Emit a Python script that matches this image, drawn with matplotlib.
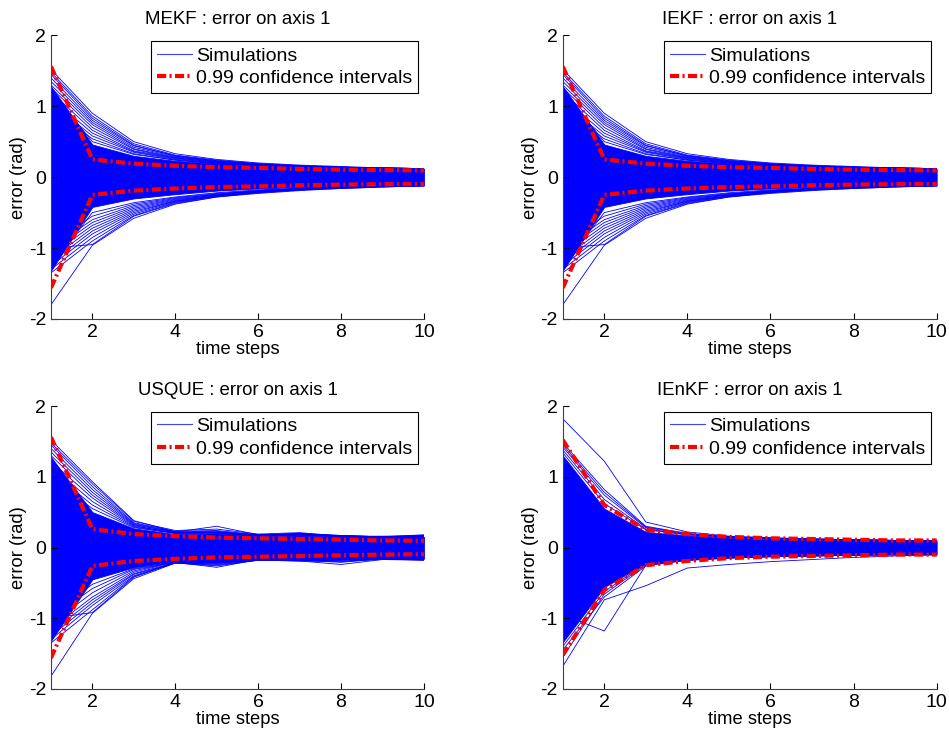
import matplotlib.pyplot as plt
from matplotlib.lines import Line2D
import numpy as np

plt.rcParams['font.family'] = ['Liberation Sans', 'DejaVu Sans']
plt.rcParams['axes.unicode_minus'] = False

steps = [1, 2, 3, 4, 5, 6, 7, 8, 9, 10]
titles = ['MEKF : error on axis 1', 'IEKF : error on axis 1',
          'USQUE : error on axis 1', 'IEnKF : error on axis 1']

# 0.99 confidence bounds (upper; lower is the mirror)
mekf_ci = [1.56, 0.25, 0.19, 0.16, 0.14, 0.13, 0.115, 0.105, 0.10, 0.095]
usque_ci = [1.56, 0.26, 0.19, 0.16, 0.14, 0.13, 0.12, 0.11, 0.10, 0.095]
ienkf_ci = [1.52, 0.60, 0.25, 0.19, 0.15, 0.13, 0.12, 0.11, 0.10, 0.10]

# dense core of the simulation runs (upper / lower edge)
mekf_core_hi = [1.28, 0.46, 0.30, 0.23, 0.19, 0.16, 0.14, 0.13, 0.12, 0.12]
mekf_core_lo = [-1.32, -0.42, -0.30, -0.24, -0.19, -0.16, -0.14, -0.13, -0.12, -0.12]
usque_core_hi = [1.28, 0.50, 0.27, 0.19, 0.20, 0.16, 0.17, 0.15, 0.14, 0.15]
usque_core_lo = [-1.32, -0.45, -0.28, -0.19, -0.20, -0.16, -0.17, -0.16, -0.15, -0.16]
ienkf_core_hi = [1.30, 0.55, 0.22, 0.17, 0.14, 0.12, 0.11, 0.10, 0.10, 0.10]
ienkf_core_lo = [-1.34, -0.56, -0.22, -0.17, -0.14, -0.12, -0.11, -0.10, -0.10, -0.10]

# individual runs outside the core
mekf_runs = [
    [1.52, 0.90, 0.50, 0.33, 0.25, 0.20, 0.17, 0.15, 0.13, 0.12],
    [1.48, 0.86, 0.47, 0.31, 0.24, 0.19, 0.16, 0.14, 0.13, 0.12],
    [1.45, 0.83, 0.45, 0.30, 0.23, 0.19, 0.16, 0.14, 0.13, 0.12],
    [1.40, 0.80, 0.44, 0.30, 0.23, 0.18, 0.16, 0.14, 0.13, 0.12],
    [1.35, 0.77, 0.42, 0.29, 0.22, 0.18, 0.15, 0.14, 0.13, 0.12],
    [1.30, 0.74, 0.40, 0.28, 0.22, 0.18, 0.15, 0.14, 0.12, 0.12],
    [1.26, 0.70, 0.39, 0.27, 0.21, 0.17, 0.15, 0.13, 0.12, 0.12],
    [1.20, 0.66, 0.37, 0.27, 0.21, 0.17, 0.15, 0.13, 0.12, 0.11],
    [1.12, 0.62, 0.36, 0.26, 0.20, 0.17, 0.14, 0.13, 0.12, 0.11],
    [1.05, 0.58, 0.35, 0.25, 0.20, 0.16, 0.14, 0.13, 0.12, 0.11],
    [0.98, 0.54, 0.33, 0.24, 0.19, 0.16, 0.14, 0.13, 0.12, 0.11],
    [1.22, 0.50, 0.32, 0.24, 0.19, 0.16, 0.14, 0.13, 0.12, 0.11],
    [-1.80, -0.96, -0.58, -0.38, -0.28, -0.23, -0.19, -0.16, -0.14, -0.12],
    [-1.00, -0.95, -0.55, -0.37, -0.28, -0.22, -0.18, -0.16, -0.14, -0.12],
    [-1.35, -0.90, -0.54, -0.36, -0.27, -0.22, -0.18, -0.15, -0.13, -0.12],
    [-1.30, -0.85, -0.52, -0.35, -0.27, -0.21, -0.18, -0.15, -0.13, -0.12],
    [-1.25, -0.80, -0.50, -0.34, -0.26, -0.21, -0.17, -0.15, -0.13, -0.12],
    [-1.20, -0.76, -0.48, -0.34, -0.26, -0.21, -0.17, -0.15, -0.13, -0.12],
    [-1.15, -0.72, -0.46, -0.33, -0.25, -0.20, -0.17, -0.15, -0.13, -0.12],
    [-1.10, -0.68, -0.44, -0.32, -0.25, -0.20, -0.17, -0.14, -0.13, -0.11],
    [-1.05, -0.64, -0.42, -0.31, -0.24, -0.20, -0.16, -0.14, -0.13, -0.11],
    [-1.00, -0.60, -0.40, -0.30, -0.24, -0.19, -0.16, -0.14, -0.12, -0.11],
    [-0.95, -0.55, -0.38, -0.29, -0.23, -0.19, -0.16, -0.14, -0.12, -0.11],
    [-1.25, -0.50, -0.36, -0.28, -0.22, -0.18, -0.16, -0.14, -0.12, -0.11],
]
usque_runs = [
    [1.52, 0.93, 0.38, 0.22, 0.30, 0.18, 0.20, 0.17, 0.15, 0.18],
    [1.48, 0.90, 0.37, 0.24, 0.26, 0.19, 0.21, 0.16, 0.16, 0.17],
    [1.45, 0.86, 0.35, 0.23, 0.24, 0.18, 0.19, 0.17, 0.15, 0.17],
    [1.40, 0.82, 0.34, 0.22, 0.23, 0.17, 0.20, 0.16, 0.14, 0.16],
    [1.35, 0.78, 0.33, 0.21, 0.22, 0.18, 0.19, 0.16, 0.15, 0.16],
    [1.30, 0.74, 0.32, 0.22, 0.21, 0.17, 0.18, 0.17, 0.15, 0.15],
    [1.22, 0.70, 0.31, 0.20, 0.22, 0.17, 0.18, 0.16, 0.14, 0.16],
    [1.15, 0.65, 0.30, 0.21, 0.21, 0.16, 0.18, 0.15, 0.15, 0.15],
    [1.08, 0.60, 0.29, 0.20, 0.21, 0.17, 0.17, 0.16, 0.14, 0.15],
    [1.00, 0.55, 0.28, 0.20, 0.20, 0.16, 0.18, 0.15, 0.14, 0.15],
    [-1.82, -0.93, -0.44, -0.22, -0.26, -0.18, -0.19, -0.24, -0.17, -0.18],
    [-1.00, -0.92, -0.42, -0.21, -0.28, -0.17, -0.18, -0.21, -0.16, -0.17],
    [-1.35, -0.88, -0.41, -0.22, -0.25, -0.18, -0.19, -0.20, -0.16, -0.18],
    [-1.30, -0.82, -0.40, -0.21, -0.24, -0.18, -0.18, -0.19, -0.17, -0.17],
    [-1.25, -0.78, -0.38, -0.22, -0.23, -0.17, -0.19, -0.18, -0.16, -0.17],
    [-1.20, -0.74, -0.37, -0.21, -0.22, -0.17, -0.18, -0.18, -0.16, -0.16],
    [-1.15, -0.70, -0.35, -0.20, -0.22, -0.18, -0.18, -0.17, -0.15, -0.17],
    [-1.08, -0.64, -0.33, -0.20, -0.21, -0.17, -0.17, -0.17, -0.15, -0.16],
    [-1.00, -0.58, -0.31, -0.21, -0.21, -0.16, -0.18, -0.17, -0.16, -0.16],
    [-0.95, -0.52, -0.30, -0.20, -0.20, -0.17, -0.17, -0.16, -0.15, -0.16],
]
ienkf_runs = [
    [1.82, 1.22, 0.36, 0.22, 0.16, 0.14, 0.12, 0.11, 0.10, 0.10],
    [1.48, 0.82, 0.30, 0.20, 0.15, 0.13, 0.12, 0.11, 0.10, 0.10],
    [1.45, 0.78, 0.29, 0.19, 0.15, 0.13, 0.12, 0.11, 0.10, 0.10],
    [1.42, 0.74, 0.28, 0.19, 0.15, 0.13, 0.12, 0.11, 0.10, 0.10],
    [1.38, 0.68, 0.26, 0.18, 0.15, 0.13, 0.11, 0.10, 0.10, 0.10],
    [1.34, 0.62, 0.25, 0.18, 0.14, 0.12, 0.11, 0.10, 0.10, 0.10],
    [-1.68, -0.74, -0.54, -0.29, -0.24, -0.20, -0.17, -0.14, -0.12, -0.10],
    [-0.95, -1.18, -0.25, -0.18, -0.15, -0.13, -0.12, -0.11, -0.10, -0.10],
    [-1.45, -0.70, -0.26, -0.18, -0.15, -0.13, -0.12, -0.11, -0.10, -0.10],
    [-1.55, -0.66, -0.24, -0.18, -0.14, -0.13, -0.12, -0.11, -0.10, -0.10],
    [-1.40, -0.62, -0.23, -0.17, -0.14, -0.12, -0.11, -0.10, -0.10, -0.10],
]

panels = [
    (mekf_core_hi, mekf_core_lo, mekf_runs, mekf_ci),
    (mekf_core_hi, mekf_core_lo, mekf_runs, mekf_ci),  # IEKF runs look identical
    (usque_core_hi, usque_core_lo, usque_runs, usque_ci),
    (ienkf_core_hi, ienkf_core_lo, ienkf_runs, ienkf_ci),
]

fig = plt.figure(figsize=(9.49, 7.35), dpi=100)
rects = [[0.0537, 0.566, 0.393, 0.386], [0.593, 0.566, 0.394, 0.386],
         [0.0537, 0.0626, 0.393, 0.385], [0.593, 0.0626, 0.394, 0.385]]

ci_style = (0, (2.2, 0.8, 0.5, 0.8))

for rect, title, (hi, lo, runs, ci) in zip(rects, titles, panels):
    ax = fig.add_axes(rect)
    ax.fill_between(steps, lo, hi, color='blue', lw=0.6, zorder=1)
    for r in runs:
        ax.plot(steps, r, color='blue', lw=0.6, zorder=2)
    ci = np.array(ci)
    ax.plot(steps, ci, color='red', lw=3, ls=ci_style, zorder=3)
    ax.plot(steps, -ci, color='red', lw=3, ls=ci_style, zorder=3)

    ax.set_xlim(1, 10)
    ax.set_ylim(-2, 2)
    ax.set_xticks([2, 4, 6, 8, 10])
    ax.set_yticks([-2, -1, 0, 1, 2])
    ax.tick_params(direction='in', length=4, labelsize=14, colors='black')
    for s in ['top', 'right']:
        ax.spines[s].set_visible(False)
    for s in ['left', 'bottom']:
        ax.spines[s].set_color('#404040')
        ax.spines[s].set_linewidth(0.8)
    ax.set_title(title, fontsize=13.4, pad=8)
    ax.set_xlabel('time steps', fontsize=13.2, labelpad=0)
    ax.set_ylabel('error (rad)', fontsize=13.2, labelpad=1)

    handles = [Line2D([], [], color='#4040ff', lw=0.8),
               Line2D([], [], color='red', lw=3, ls=ci_style)]
    leg = ax.legend(handles, ['Simulations', '0.99 confidence intervals'],
                    loc='upper right', fontsize=14, fancybox=False,
                    framealpha=1, edgecolor='black', borderaxespad=0.3,
                    handlelength=1.8, handletextpad=0.2, borderpad=0.3,
                    labelspacing=0.25)
    leg.get_frame().set_linewidth(0.8)

fig.savefig('out.png', dpi=100)
